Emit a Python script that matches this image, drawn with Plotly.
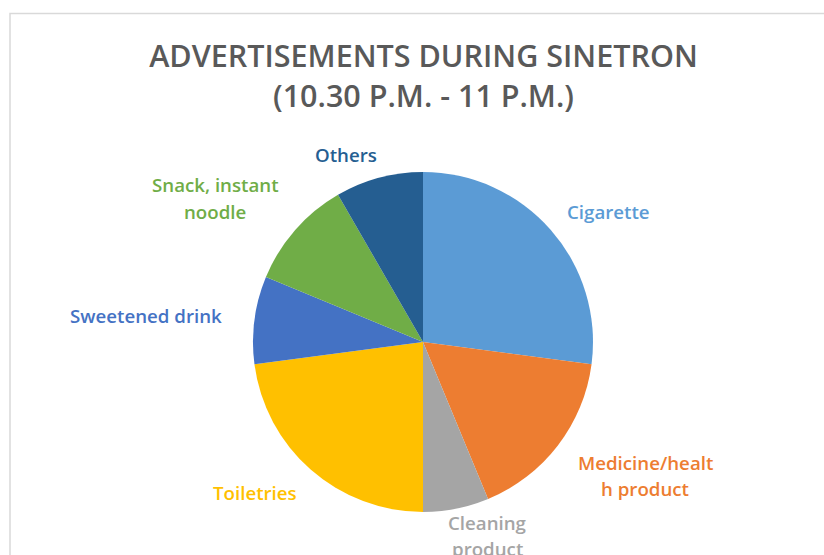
import plotly.graph_objects as go

# Advertisement counts by product category, 10.30 P.M. - 11 P.M.
categories = [
    "Cigarette",
    "Medicine/health product",
    "Cleaning product",
    "Toiletries",
    "Sweetened drink",
    "Snack, instant noodle",
    "Others",
]
ad_counts = [13, 8, 3, 11, 4, 5, 4]
# label text as wrapped on the chart
label_lines = [
    ["Cigarette"],
    ["Medicine/healt", "h product"],
    ["Cleaning", "product"],
    ["Toiletries"],
    ["Sweetened drink"],
    ["Snack, instant", "noodle"],
    ["Others"],
]

colors = ["#5B9BD5", "#ED7D31", "#A5A5A5", "#FFC000", "#4472C4", "#70AD47", "#255E91"]

W, H = 824, 555


def px(x):
    return x / W


def py(y):
    return 1 - y / H


# label anchor points (pixel centre of first line) and line spacing
label_pos = [(608, 211), (645, 462), (487, 522), (255, 492), (146, 315), (215, 185), (346, 154)]
line_gap = 26

fig = go.Figure(
    go.Pie(
        labels=categories,
        values=ad_counts,
        sort=False,
        direction="clockwise",
        rotation=0,
        marker=dict(colors=colors, line=dict(width=0)),
        textinfo="none",
        hoverinfo="label+value+percent",
        showlegend=False,
        domain=dict(x=[px(253), px(593)], y=[py(512), py(172)]),
    )
)

annotations = []
for lines, (cx, cy), col in zip(label_lines, label_pos, colors):
    for i, line in enumerate(lines):
        annotations.append(
            dict(
                text=line,
                x=px(cx),
                y=py(cy + i * line_gap),
                xref="paper",
                yref="paper",
                xanchor="center",
                yanchor="middle",
                showarrow=False,
                font=dict(family="Open Sans", size=18.7, color=col, weight=600),
            )
        )

fig.update_layout(
    width=W,
    height=H,
    margin=dict(l=0, r=0, t=0, b=0),
    paper_bgcolor="white",
    plot_bgcolor="white",
    title=dict(
        text="ADVERTISEMENTS DURING SINETRON<br>(10.30 P.M. - 11 P.M.)",
        x=px(423.5),
        xanchor="center",
        xref="paper",
        y=py(67),
        yanchor="middle",
        yref="paper",
        font=dict(family="Open Sans", size=30.5, color="#595959", weight=600),
    ),
    annotations=annotations,
    shapes=[
        dict(
            type="rect",
            xref="paper",
            yref="paper",
            x0=px(10),
            y0=-0.05,
            x1=1.05,
            y1=py(13.5),
            line=dict(color="#D9D9D9", width=1.5),
            fillcolor="rgba(0,0,0,0)",
        )
    ],
)

fig.write_html("out.html")
